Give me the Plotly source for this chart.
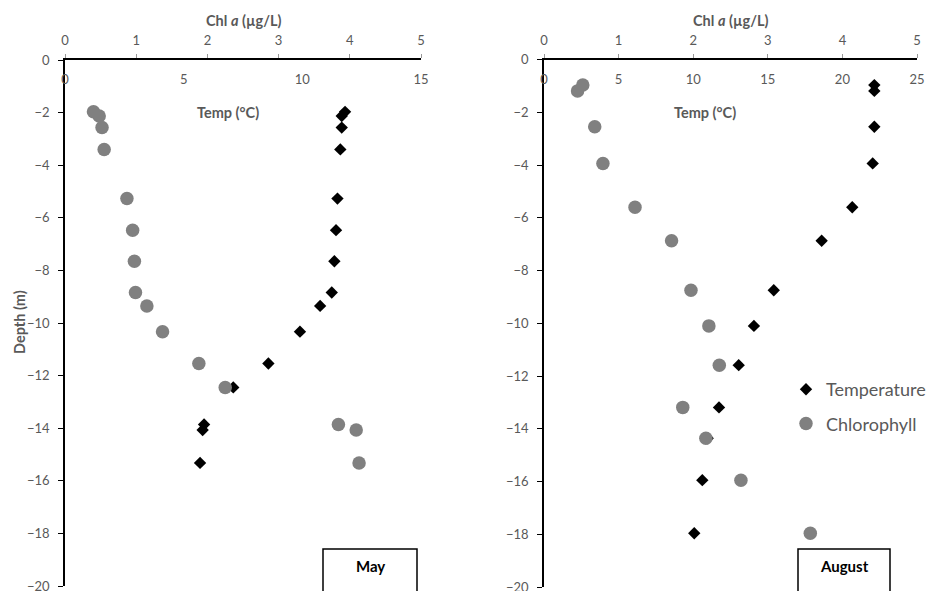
import plotly.graph_objects as go

# ---------------- data ----------------
may_depth = [-1.97, -2.13, -2.57, -3.40, -5.27, -6.47, -7.65, -8.84, -9.35, -10.33, -11.54, -12.45, -13.86, -14.07, -15.32]
may_temp = [11.80, 11.66, 11.66, 11.60, 11.48, 11.42, 11.35, 11.24, 10.75, 9.90, 8.57, 7.09, 5.86, 5.80, 5.69]
may_chl = [0.40, 0.48, 0.52, 0.55, 0.87, 0.95, 0.975, 0.99, 1.15, 1.37, 1.88, 2.25, 3.84, 4.09, 4.13]

aug_depth = [-0.97, -1.19, -2.55, -3.94, -5.60, -6.87, -8.75, -10.10, -11.59, -13.19, -14.36, -15.95, -17.96]
aug_temp = [22.14, 22.14, 22.14, 22.03, 20.66, 18.61, 15.40, 14.07, 13.05, 11.73, 10.97, 10.61, 10.07]
aug_chl = [0.52, 0.45, 0.68, 0.79, 1.22, 1.71, 1.97, 2.21, 2.35, 1.86, 2.17, 2.64, 3.57]

depth_ticks = [0, -2, -4, -6, -8, -10, -12, -14, -16, -18, -20]
chl_ticks = [0, 1, 2, 3, 4, 5]
may_temp_ticks = [0, 5, 10, 15]
aug_temp_ticks = [0, 5, 10, 15, 20, 25]

# ---------------- layout helpers ----------------
W, H = 927, 591
def px(x):
    return x / W
def py(y):
    return 1 - y / H

GRAY = "#595959"
FONT = "Lato, 'Open Sans', sans-serif"
TEMP_COLOR = "black"
CHL_COLOR = "#808080"

fig = go.Figure()

# May
fig.add_trace(go.Scatter(x=may_temp, y=may_depth, xaxis="x", yaxis="y", mode="markers",
                         marker=dict(symbol="diamond", size=9.5, color=TEMP_COLOR),
                         name="Temperature", showlegend=False))
fig.add_trace(go.Scatter(x=may_chl, y=may_depth, xaxis="x2", yaxis="y", mode="markers",
                         marker=dict(symbol="circle", size=13.5, color=CHL_COLOR),
                         name="Chlorophyll", showlegend=False))
# August
fig.add_trace(go.Scatter(x=aug_temp, y=aug_depth, xaxis="x3", yaxis="y2", mode="markers",
                         marker=dict(symbol="diamond", size=9.5, color=TEMP_COLOR),
                         name="Temperature", legendgroup="t"))
fig.add_trace(go.Scatter(x=aug_chl, y=aug_depth, xaxis="x4", yaxis="y2", mode="markers",
                         marker=dict(symbol="circle", size=13.5, color=CHL_COLOR),
                         name="Chlorophyll", legendgroup="c"))

tickfont = dict(family=FONT, size=13, color=GRAY)

def temp_axis(dom, rng, ticks):
    # temperature scale drawn just inside the top of the panel (labels only)
    return dict(domain=dom, range=rng, side="top", anchor="free", position=py(87),
                tickvals=ticks, ticks="", showline=False, showgrid=False,
                zeroline=False, tickfont=tickfont, fixedrange=True, automargin=False,
                ticklabeloverflow="allow")

def chl_axis(over, anchor):
    return dict(overlaying=over, side="top", anchor=anchor, range=[0, 5], tickvals=chl_ticks,
                showline=True, linecolor="black", linewidth=1.5, ticks="outside", ticklen=4,
                tickcolor="#999999", showgrid=False, zeroline=False, tickfont=tickfont,
                ticklabelstandoff=4, automargin=False, ticklabeloverflow="allow")

def depth_axis(dom, anchor):
    return dict(domain=dom, range=[-20, 0], tickvals=depth_ticks, anchor=anchor,
                showline=True, linecolor="black", linewidth=1.5, ticks="outside", ticklen=5,
                tickcolor="black", showgrid=False, zeroline=False, tickfont=tickfont,
                ticklabelstandoff=6, automargin=False, ticklabeloverflow="allow")

left_x = [px(65), px(421)]
left_y = [py(586), py(60)]
right_x = [px(544), px(917)]
right_y = [py(587), py(59.5)]

fig.update_layout(
    width=W, height=H, margin=dict(l=0, r=0, t=0, b=0, pad=0, autoexpand=False),
    paper_bgcolor="white", plot_bgcolor="white",
    font=dict(family=FONT, color=GRAY),
    xaxis=temp_axis(left_x, [0, 15], may_temp_ticks),
    xaxis2=chl_axis("x", "y"),
    yaxis=depth_axis(left_y, "x2"),
    xaxis3=temp_axis(right_x, [0, 25], aug_temp_ticks),
    xaxis4=chl_axis("x3", "y2"),
    yaxis2=depth_axis(right_y, "x4"),
    legend=dict(x=px(786), y=py(371), xanchor="left", yanchor="top",
                font=dict(family=FONT, size=18, color=GRAY),
                bgcolor="rgba(0,0,0,0)", traceorder="grouped", tracegroupgap=8),
    showlegend=True,
)

ann = []
title_font = dict(family=FONT, size=14.5, color=GRAY)
def add_text(x, y, text, font, angle=0):
    ann.append(dict(x=px(x), y=py(y), xref="paper", yref="paper", showarrow=False,
                    xanchor="center", yanchor="middle", text=text, font=font, textangle=angle))

for cx in (243, 730.5):
    add_text(cx, 21, "<b>Chl <i>a</i> (µg/L)</b>", title_font)
for cx in (228, 705):
    add_text(cx, 113, "<b>Temp (°C)</b>", title_font)
add_text(19, 322, "<b>Depth (m)</b>", title_font, angle=-90)
add_text(370, 566, "<b>May</b>", dict(family=FONT, size=15, color="black"))
add_text(844, 566, "<b>August</b>", dict(family=FONT, size=15, color="black"))
fig.update_layout(annotations=ann)

shapes = []
for (x0, x1) in ((323, 417), (798, 890)):
    shapes.append(dict(type="rect", xref="paper", yref="paper",
                       x0=px(x0), x1=px(x1), y0=py(600), y1=py(549),
                       line=dict(color="black", width=1.5), fillcolor="white", layer="above"))
fig.update_layout(shapes=shapes)

fig.write_html("out.html")
